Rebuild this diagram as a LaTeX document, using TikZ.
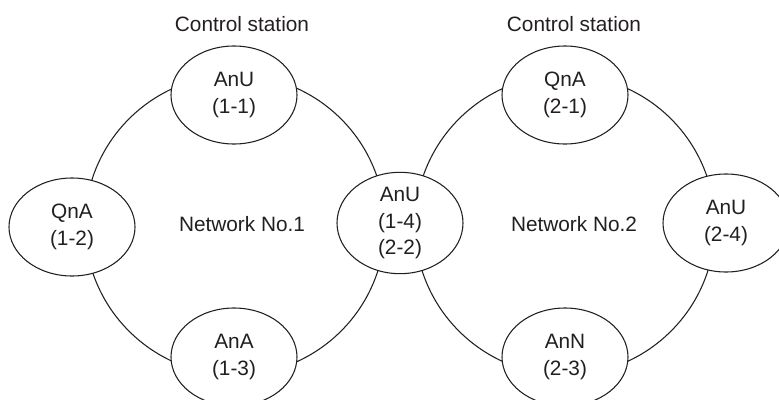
\documentclass[tikz,border=0pt]{standalone}
\usepackage{fontspec}
\setmainfont{Liberation Sans}
\usetikzlibrary{shapes.geometric}
\definecolor{ink}{HTML}{231F20}
\begin{document}
\begin{tikzpicture}[x=0.75pt,y=-0.75pt,
  every node/.style={text=ink,font=\fontsize{15.6pt}{19.9pt}\selectfont},
  station/.style={ellipse,draw=ink,line width=0.8pt,fill=white,minimum width=94.5pt,minimum height=73.5pt,inner sep=0pt,align=center},
  ring/.style={circle,draw=ink,line width=0.8pt,minimum size=225pt,inner sep=0pt},
  lbl/.style={inner sep=0pt}]
\useasboundingbox (0,0) rectangle (779,400);
\node[ring] (ring1) at (235,225) {};
\node[ring] (ring2) at (565,225) {};
\node[station] (n11) at (234,95) {AnU\\(1-1)};
\node[station] (n12) at (72,227) {QnA\\(1-2)};
\node[station] (n13) at (234,357) {AnA\\(1-3)};
\node[station] (n14) at (400,223) {AnU\\(1-4)\\(2-2)};
\node[station] (n21) at (565,95) {QnA\\(2-1)};
\node[station] (n24) at (726,223) {AnU\\(2-4)};
\node[station] (n23) at (565,357) {AnN\\(2-3)};
\node[lbl] (cs1) at (242,24) {Control station};
\node[lbl] (cs2) at (574,24) {Control station};
\node[lbl] (net1) at (242,224) {Network No.1};
\node[lbl] (net2) at (574,224) {Network No.2};
\end{tikzpicture}
\end{document}
